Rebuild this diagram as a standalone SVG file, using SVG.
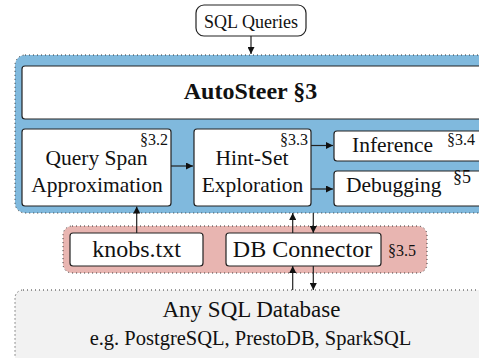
<svg xmlns="http://www.w3.org/2000/svg" width="479" height="358" viewBox="0 0 479 358">
<defs>
<style>
text{fill:#111}
.box{fill:#fff;stroke:#222;stroke-width:1.2}
.grp{stroke:#333;stroke-width:1;stroke-dasharray:1 3}
.c{text-anchor:middle}
.sec{font-size:16px}
.lbl{font-size:21.5px}
.conn line{stroke:#222;stroke-width:1.2}
</style>
<marker id="ah" viewBox="0 0 10 10" refX="10" refY="5" markerWidth="7" markerHeight="7" markerUnits="userSpaceOnUse" orient="auto">
<path d="M0,0 L10,5 L0,10 Z" fill="#111"/>
</marker>
</defs>
<rect width="479" height="358" fill="#fff"/>
<g font-family="Liberation Serif, Times New Roman, serif">
<g id="database">
<rect class="grp" x="15" y="290" width="480" height="90" rx="8" fill="#f2f2f2"/>
<text class="c" x="251.5" y="317" font-size="23">Any SQL Database</text>
<text class="c" x="250.5" y="345" font-size="20.5">e.g. PostgreSQL, PrestoDB, SparkSQL</text>
</g>
<g id="autosteer-group">
<rect class="grp" x="15" y="55" width="480" height="158" rx="10" fill="#80b9dd"/>
</g>
<g id="connector-group">
<rect class="grp" x="63" y="226" width="364" height="47" rx="9" fill="#e8b5b1"/>
<text x="388" y="256" class="sec">§3.5</text>
</g>
<g id="sql-queries">
<rect class="box" x="196" y="5" width="110" height="31" rx="8"/>
<text class="c" x="251" y="28" font-size="18">SQL Queries</text>
</g>
<g id="autosteer">
<rect class="box" x="22" y="66" width="470" height="53" rx="3"/>
<text class="c" x="250.5" y="99" font-size="24" font-weight="bold">AutoSteer §3</text>
</g>
<g id="query-span">
<rect class="box" x="22" y="129" width="149" height="77" rx="3"/>
<text class="c lbl" x="96.5" y="165">Query Span</text>
<text class="c lbl" x="97" y="192">Approximation</text>
<text class="sec" x="168" y="145" text-anchor="end">§3.2</text>
</g>
<g id="hint-set">
<rect class="box" x="194" y="129" width="117" height="77" rx="3"/>
<text class="c lbl" x="252" y="165">Hint-Set</text>
<text class="c lbl" x="252.5" y="192">Exploration</text>
<text class="sec" x="308" y="145" text-anchor="end">§3.3</text>
</g>
<g id="inference">
<rect class="box" x="334" y="131" width="160" height="30" rx="3"/>
<text class="lbl" x="352" y="152">Inference</text>
<text class="sec" x="447" y="145">§3.4</text>
</g>
<g id="debugging">
<rect class="box" x="334" y="171" width="160" height="35" rx="3"/>
<text class="lbl" x="346" y="192">Debugging</text>
<text x="453" y="183" font-size="18">§5</text>
</g>
<g id="knobs">
<rect class="box" x="70" y="233" width="133" height="33" rx="3"/>
<text class="c" x="136.5" y="257" font-size="24">knobs.txt</text>
</g>
<g id="db-connector">
<rect class="box" x="226" y="233" width="155" height="33" rx="3"/>
<text class="c" x="302.5" y="257" font-size="24">DB Connector</text>
</g>
</g>
<g id="connectors" class="conn">
<line x1="251" y1="36" x2="251" y2="54" marker-end="url(#ah)"/>
<line x1="171" y1="166" x2="193" y2="166" marker-end="url(#ah)"/>
<line x1="311" y1="145.5" x2="333" y2="145.5" marker-end="url(#ah)"/>
<line x1="311" y1="189" x2="333" y2="189" marker-end="url(#ah)"/>
<line x1="136.7" y1="233" x2="136.7" y2="206.5" marker-end="url(#ah)"/>
<line x1="292.7" y1="233" x2="292.7" y2="213" marker-end="url(#ah)"/>
<line x1="313.3" y1="213" x2="313.3" y2="233" marker-end="url(#ah)"/>
<line x1="292.7" y1="290" x2="292.7" y2="266" marker-end="url(#ah)"/>
<line x1="313.3" y1="266" x2="313.3" y2="290" marker-end="url(#ah)"/>
</g>
</svg>
